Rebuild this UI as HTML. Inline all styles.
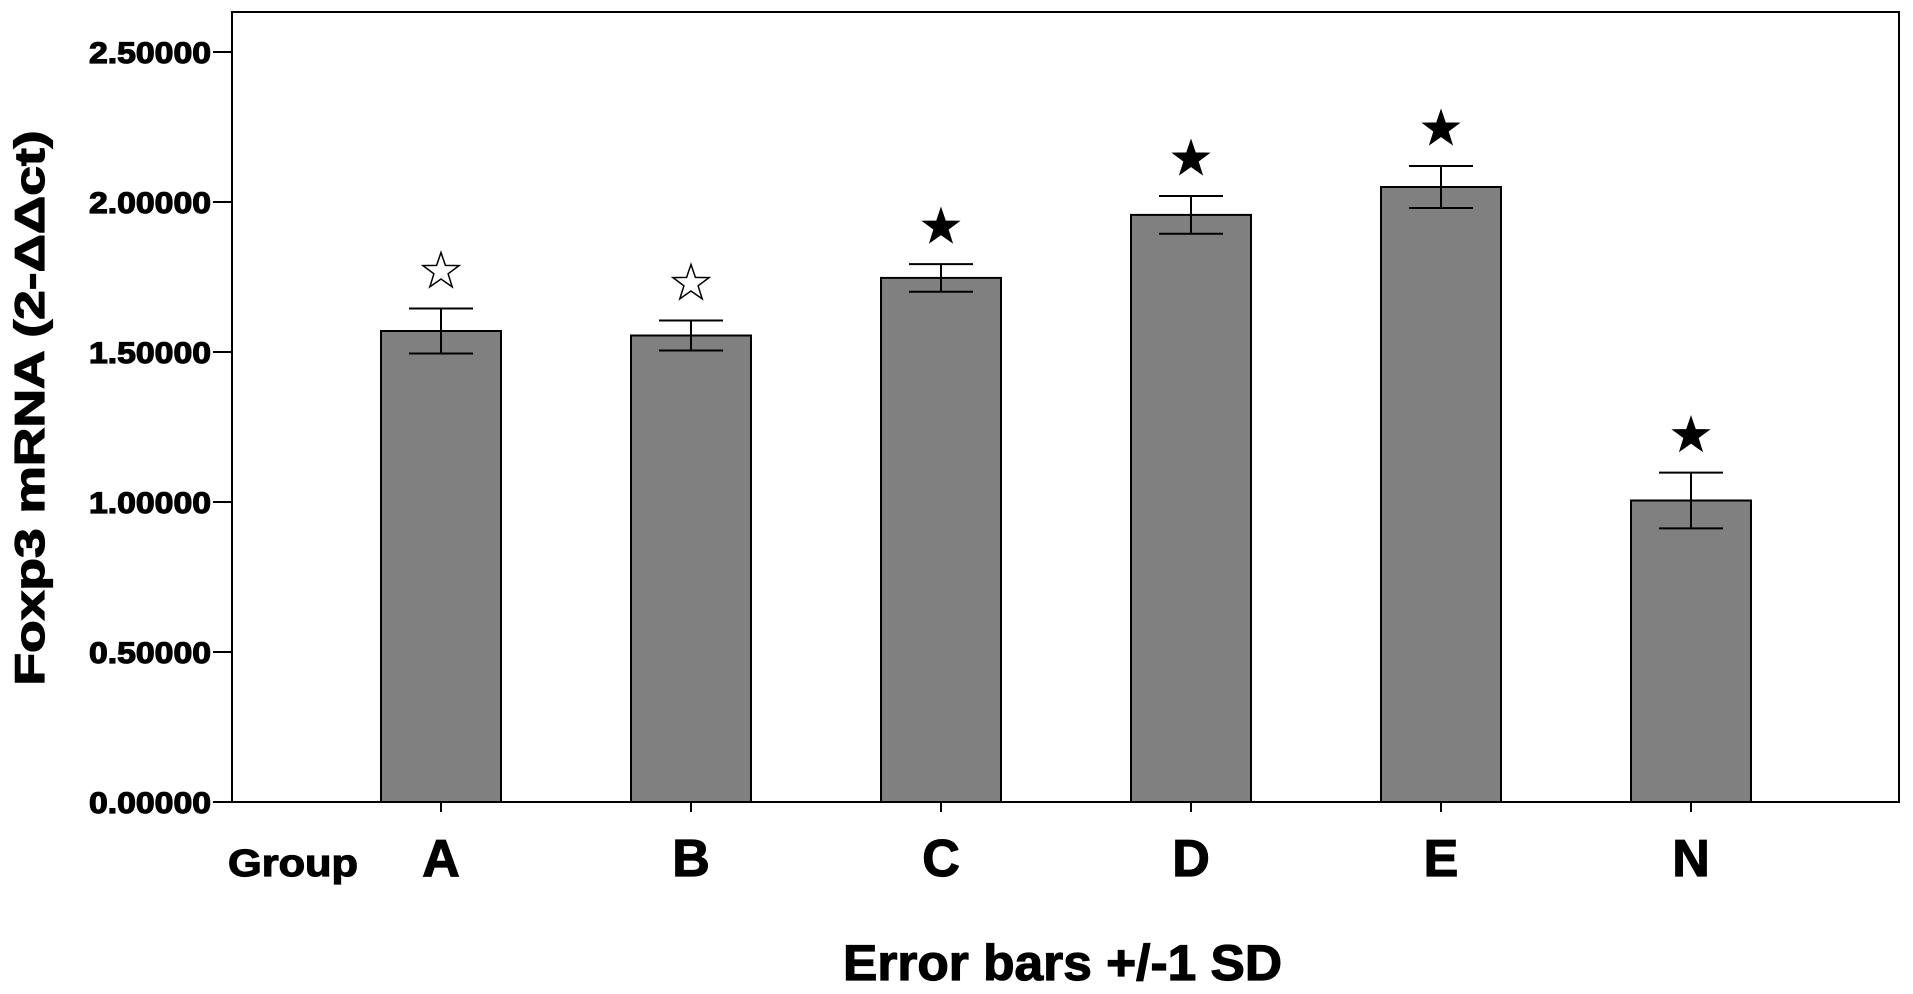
<!DOCTYPE html>
<html><head><meta charset="utf-8"><style>
html,body{margin:0;padding:0;background:#fff;}
svg{display:block;font-family:"Liberation Sans",Arial,sans-serif;font-weight:bold;}
.t{stroke:#000;stroke-width:1.2;}
</style></head><body>
<svg id="chart" width="1913" height="994" viewBox="0 0 1913 994">
<rect x="232" y="12" width="1667" height="790" fill="#fff" stroke="#000" stroke-width="2"/>
<g id="yaxis"></g>
<g id="bars"></g>
<g id="xaxis"></g>
<text class="t" x="44" y="408" font-size="42" text-anchor="middle" textLength="555" lengthAdjust="spacingAndGlyphs" transform="rotate(-90 44 408)">Foxp3 mRNA (2-ΔΔct)</text>
<text class="t" x="228" y="876" font-size="38" textLength="130" lengthAdjust="spacingAndGlyphs">Group</text>
<text class="t" x="843" y="980" font-size="50" textLength="439" lengthAdjust="spacingAndGlyphs">Error bars +/-1 SD</text>
</svg>
<script>
const categories = ["A","B","C","D","E","N"];
const means = [1.57, 1.555, 1.747, 1.957, 2.05, 1.005];
const sds = [0.075, 0.05, 0.046, 0.063, 0.07, 0.093];
const starFilled = [false, false, true, true, true, true];
const yTicks = [0, 0.5, 1.0, 1.5, 2.0, 2.5];
const yTickLabels = ["0.00000","0.50000","1.00000","1.50000","2.00000","2.50000"];

const NS = "http://www.w3.org/2000/svg";
const y0 = 802, pxPerUnit = 300;
function yScale(v){ return y0 - v*pxPerUnit; }
function xScale(i){ return 441 + i*250; }
function mk(tag, attrs, parent){ const e=document.createElementNS(NS,tag); for(const k in attrs) e.setAttribute(k,attrs[k]); parent.appendChild(e); return e; }

const yaxis=document.getElementById('yaxis');
yTicks.forEach((t,i)=>{
  const y=yScale(t);
  const tk=mk('line',{x1:213,x2:232,y1:y,y2:y,stroke:'#000','stroke-width':2},yaxis);
  
  
  const lb=mk('text',{x:211,y:y+11,'font-size':30,'text-anchor':'end',textLength:122,lengthAdjust:'spacingAndGlyphs',class:'t'},yaxis);
  lb.textContent=yTickLabels[i];
  
  
});

const bars=document.getElementById('bars');
const xaxis=document.getElementById('xaxis');
function starPts(cx,cy,R,r){ let p=[]; for(let k=0;k<10;k++){ const a=-Math.PI/2+k*Math.PI/5; const rr=k%2?r:R; p.push((cx+rr*Math.cos(a)).toFixed(1)+','+(cy+rr*Math.sin(a)).toFixed(1)); } return p.join(' '); }
categories.forEach((c,i)=>{
  const cx=xScale(i), top=yScale(means[i]);
  const b=mk('rect',{x:cx-60,y:top,width:120,height:y0-top,fill:'#808080',stroke:'#000','stroke-width':2},bars);
  
  
  const eh=yScale(means[i]+sds[i]), el=yScale(means[i]-sds[i]);
  const g=mk('g',{stroke:'#000','stroke-width':2},bars);
  
  
  mk('line',{x1:cx,x2:cx,y1:eh,y2:el},g);
  mk('line',{x1:cx-32,x2:cx+32,y1:eh,y2:eh},g);
  mk('line',{x1:cx-32,x2:cx+32,y1:el,y2:el},g);
  const s=mk('polygon',{points:starPts(cx,eh-37,19,7.5),fill:starFilled[i]?'#000':'#fff',stroke:'#000','stroke-width':starFilled[i]?1:1.5},bars);
  
  
  const tk=mk('line',{x1:cx,x2:cx,y1:y0,y2:y0+10,stroke:'#000','stroke-width':2},xaxis);
  
  
  const lb=mk('text',{x:cx,y:876,'font-size':52,'text-anchor':'middle',class:'t'},xaxis);
  lb.textContent=c;
  
  
});
</script>
</body></html>
